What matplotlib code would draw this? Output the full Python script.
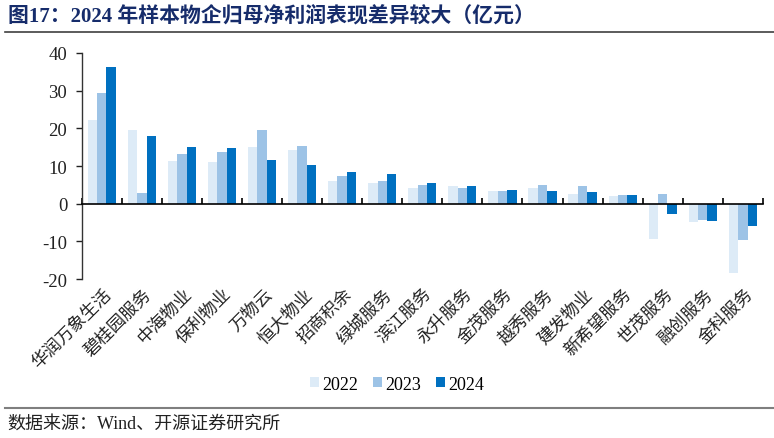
import matplotlib
matplotlib.use("Agg")
import matplotlib.pyplot as plt
import matplotlib.transforms as mtransforms
import numpy as np

# fonts: serif for latin/digits, CJK falls back to Noto Sans CJK
plt.rcParams['font.family'] = ['Liberation Serif', 'Noto Sans CJK SC']
plt.rcParams['axes.unicode_minus'] = False

# data (亿元)
companies = ['华润万象生活', '碧桂园服务', '中海物业', '保利物业', '万物云', '恒大物业',
             '招商积余', '绿城服务', '滨江服务', '永升服务', '金茂服务', '越秀服务',
             '建发物业', '新希望服务', '世茂服务', '融创服务', '金科服务']
profit_2022 = [22.1, 19.5, 11.3, 11.0, 15.1, 14.2, 5.9, 5.4, 4.1, 4.7, 3.3, 4.1,
               2.5, 2.0, -9.4, -4.9, -18.3]
profit_2023 = [29.3, 2.9, 13.3, 13.8, 19.6, 15.4, 7.4, 6.0, 4.9, 4.3, 3.3, 4.9,
               4.6, 2.2, 2.7, -4.4, -9.6]
profit_2024 = [36.3, 18.0, 15.1, 14.7, 11.5, 10.2, 8.4, 7.8, 5.4, 4.8, 3.7, 3.5,
               3.2, 2.2, -2.7, -4.5, -5.9]
years = ['2022', '2023', '2024']
yticks = [-20, -10, 0, 10, 20, 30, 40]

colors = ['#DDEBF7', '#9DC3E6', '#0070C0']

fig = plt.figure(figsize=(7.74, 4.39), dpi=100)
ax = fig.add_axes([0.1056, 0.362, 0.88, 0.515])

x = np.arange(len(companies))
w = 0.235
for k, (vals, lab) in enumerate(zip([profit_2022, profit_2023, profit_2024], years)):
    ax.bar(x + (k - 1) * w, vals, width=w, color=colors[k], label=lab,
           edgecolor='none', zorder=2)

ax.set_xlim(-0.5, len(companies) - 0.5)
ax.set_ylim(-20, 40)
ax.set_yticks(yticks)
ax.tick_params(axis='y', direction='out', length=4.5, width=1, labelsize=13.5,
               pad=6, colors='#222222')

# x axis sits on zero, with small ticks between groups pointing up
ax.spines['bottom'].set_position(('data', 0))
ax.spines['top'].set_visible(False)
ax.spines['right'].set_visible(False)
ax.spines['bottom'].set_linewidth(1.2)
ax.spines['left'].set_linewidth(1.0)
ax.spines['left'].set_color('#333333')
ax.set_xticks(np.arange(-0.5, len(companies), 1.0))
ax.tick_params(axis='x', direction='in', length=4, width=1.2, labelbottom=False)

# category labels below the plot, rotated 45 degrees
trans = mtransforms.blended_transform_factory(ax.transData, ax.transAxes)
for i, name in enumerate(companies):
    ax.text(i + 0.05, -0.03, name, transform=trans, rotation=45, ha='right',
            va='top', rotation_mode='anchor', fontsize=12.5, color='#222222')

fig.legend(loc='center', bbox_to_anchor=(0.513, 0.123), ncol=3, frameon=False,
           fontsize=13, handlelength=0.5, handleheight=0.5, handletextpad=0.2,
           columnspacing=0.8)

# title, separator lines and source
fig.text(0.01, 0.962, '图17：2024 年样本物企归母净利润表现差异较大（亿元）',
         fontsize=15, fontweight='bold', color='#162C6B', va='center', ha='left')
fig.add_artist(plt.Line2D([0.006, 1.0], [0.925, 0.925], color='#404040', lw=1.2))
fig.add_artist(plt.Line2D([0.006, 1.0], [0.068, 0.068], color='#7F7F7F', lw=1.5))
fig.text(0.01, 0.034, '数据来源：Wind、开源证券研究所', fontsize=13,
         color='#222222', va='center', ha='left')

fig.savefig('out.png', dpi=100)
